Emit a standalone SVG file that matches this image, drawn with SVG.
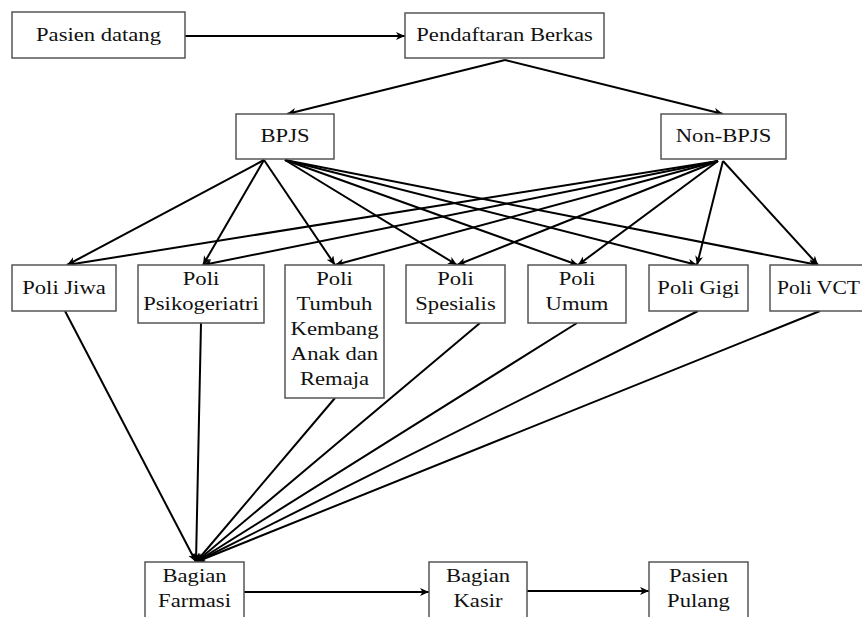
<svg xmlns="http://www.w3.org/2000/svg" width="862" height="617" viewBox="0 0 862 617">
<defs>
<style>
.box{fill:#fff;stroke:#555;stroke-width:1.5}
.t{font-family:"Liberation Serif","Times New Roman",serif;font-size:19.5px;fill:#111;text-anchor:middle}
.c{stroke:#000;stroke-width:2;fill:none;marker-end:url(#ah)}
</style>
<marker id="ah" markerUnits="userSpaceOnUse" markerWidth="10" markerHeight="9" refX="9" refY="4" orient="auto">
<path d="M0,0 L9,4 L0,8 L2.5,4 z" fill="#000"/>
</marker>
</defs>
<rect width="862" height="617" fill="#fff"/>
<g id="connectors">
<line class="c" x1="185" y1="36" x2="405" y2="36"/>
<line class="c" x1="505" y1="60" x2="287" y2="114"/>
<line class="c" x1="505" y1="60" x2="723" y2="114"/>
<line class="c" x1="264" y1="160" x2="67" y2="265"/>
<line class="c" x1="264" y1="160" x2="203" y2="265"/>
<line class="c" x1="264" y1="160" x2="335" y2="265"/>
<line class="c" x1="285" y1="160" x2="457" y2="265"/>
<line class="c" x1="285" y1="160" x2="578" y2="265"/>
<line class="c" x1="285" y1="160" x2="697" y2="265"/>
<line class="c" x1="285" y1="160" x2="818" y2="265"/>
<line class="c" x1="718" y1="161" x2="67" y2="265"/>
<line class="c" x1="718" y1="161" x2="203" y2="265"/>
<line class="c" x1="718" y1="161" x2="335" y2="265"/>
<line class="c" x1="718" y1="161" x2="457" y2="265"/>
<line class="c" x1="718" y1="161" x2="578" y2="265"/>
<line class="c" x1="723" y1="161" x2="697" y2="265"/>
<line class="c" x1="723" y1="161" x2="818" y2="265"/>
<line class="c" x1="65" y1="311" x2="196" y2="562"/>
<line class="c" x1="201" y1="323" x2="196" y2="562"/>
<line class="c" x1="335" y1="398" x2="196" y2="562"/>
<line class="c" x1="480" y1="323" x2="196" y2="562"/>
<line class="c" x1="577" y1="323" x2="196" y2="562"/>
<line class="c" x1="698" y1="311" x2="196" y2="562"/>
<line class="c" x1="820" y1="311" x2="196" y2="562"/>
<line class="c" x1="244" y1="592" x2="429" y2="592"/>
<line class="c" x1="527" y1="591" x2="649" y2="591"/>
</g>
<g id="pasien-datang"><rect class="box" x="12" y="12" width="173" height="46"/><text class="t" transform="translate(98.5,0) scale(1.16,1)" x="0" y="41">Pasien datang</text></g>
<g id="pendaftaran"><rect class="box" x="405" y="13" width="199" height="45"/><text class="t" transform="translate(504.5,0) scale(1.16,1)" x="0" y="41">Pendaftaran Berkas</text></g>
<g id="bpjs"><rect class="box" x="236" y="114" width="98" height="45"/><text class="t" transform="translate(285,0) scale(1.16,1)" x="0" y="142">BPJS</text></g>
<g id="non-bpjs"><rect class="box" x="661" y="114" width="125" height="45"/><text class="t" transform="translate(723.5,0) scale(1.16,1)" x="0" y="142">Non-BPJS</text></g>
<g id="poli-jiwa"><rect class="box" x="12" y="265" width="104" height="46"/><text class="t" transform="translate(64,0) scale(1.16,1)" x="0" y="294">Poli Jiwa</text></g>
<g id="poli-psikogeriatri"><rect class="box" x="138" y="265" width="126" height="58"/><text class="t" transform="translate(201,0) scale(1.16,1)" x="0" y="285">Poli</text><text class="t" transform="translate(201,0) scale(1.16,1)" x="0" y="310">Psikogeriatri</text></g>
<g id="poli-tumbuh"><rect class="box" x="285" y="265" width="99" height="133"/><text class="t" transform="translate(334.5,0) scale(1.16,1)" x="0" y="285">Poli</text><text class="t" transform="translate(334.5,0) scale(1.16,1)" x="0" y="310">Tumbuh</text><text class="t" transform="translate(334.5,0) scale(1.16,1)" x="0" y="335">Kembang</text><text class="t" transform="translate(334.5,0) scale(1.16,1)" x="0" y="360">Anak dan</text><text class="t" transform="translate(334.5,0) scale(1.16,1)" x="0" y="385">Remaja</text></g>
<g id="poli-spesialis"><rect class="box" x="406" y="265" width="99" height="58"/><text class="t" transform="translate(455.5,0) scale(1.16,1)" x="0" y="285">Poli</text><text class="t" transform="translate(455.5,0) scale(1.16,1)" x="0" y="310">Spesialis</text></g>
<g id="poli-umum"><rect class="box" x="528" y="265" width="98" height="58"/><text class="t" transform="translate(577,0) scale(1.16,1)" x="0" y="285">Poli</text><text class="t" transform="translate(577,0) scale(1.16,1)" x="0" y="310">Umum</text></g>
<g id="poli-gigi"><rect class="box" x="649" y="265" width="99" height="46"/><text class="t" transform="translate(698.5,0) scale(1.16,1)" x="0" y="294">Poli Gigi</text></g>
<g id="poli-vct"><rect class="box" x="770" y="265" width="100" height="46"/><text class="t" transform="translate(818.5,0) scale(1.11,1)" x="0" y="294">Poli VCT</text></g>
<g id="bagian-farmasi"><rect class="box" x="145" y="562" width="99" height="70"/><text class="t" transform="translate(194.5,0) scale(1.16,1)" x="0" y="582">Bagian</text><text class="t" transform="translate(194.5,0) scale(1.16,1)" x="0" y="607">Farmasi</text></g>
<g id="bagian-kasir"><rect class="box" x="429" y="562" width="98" height="70"/><text class="t" transform="translate(478,0) scale(1.16,1)" x="0" y="582">Bagian</text><text class="t" transform="translate(478,0) scale(1.16,1)" x="0" y="607">Kasir</text></g>
<g id="pasien-pulang"><rect class="box" x="649" y="562" width="99" height="70"/><text class="t" transform="translate(698.5,0) scale(1.16,1)" x="0" y="582">Pasien</text><text class="t" transform="translate(698.5,0) scale(1.16,1)" x="0" y="607">Pulang</text></g>
</svg>
